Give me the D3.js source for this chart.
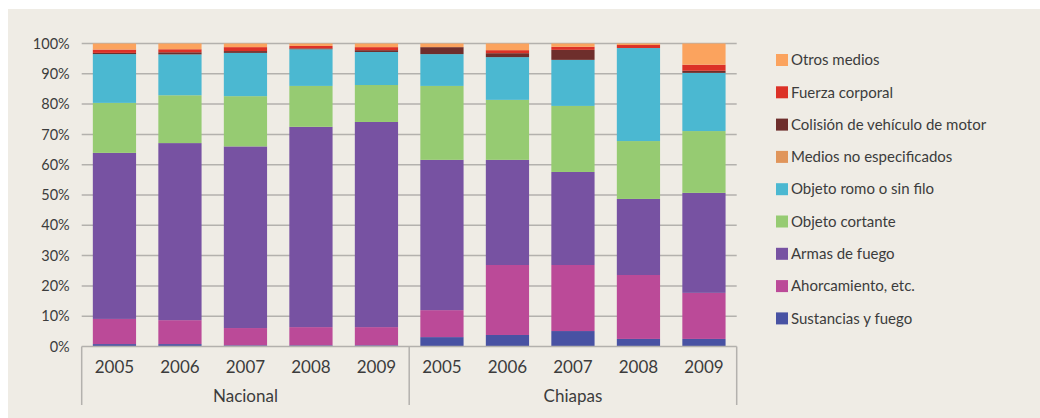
<!DOCTYPE html>
<html>
<head>
<meta charset="utf-8">
<script src="https://cdn.jsdelivr.net/npm/d3@7"></script>
<style>
  html, body { margin: 0; padding: 0; background: #ffffff; }
  svg { display: block; }
  text { font-family: Lato, "Open Sans", sans-serif; fill: #3c3c3c; }
</style>
</head>
<body>
<svg id="chart" width="1040" height="418"></svg>
<script>
// ---- Data ----
const years = ["2005", "2006", "2007", "2008", "2009"];
const groups = ["Nacional", "Chiapas"];
const yTicks = [0, 0.1, 0.2, 0.3, 0.4, 0.5, 0.6, 0.7, 0.8, 0.9, 1.0];

// series in stack order (bottom to top); first 5 values Nacional, last 5 Chiapas
const seriesNames = [
  "Sustancias y fuego",
  "Ahorcamiento, etc.",
  "Armas de fuego",
  "Objeto cortante",
  "Objeto romo o sin filo",
  "Medios no especificados",
  "Colisión de vehículo de motor",
  "Fuerza corporal",
  "Otros medios"
];
const sustancias      = [0.8, 0.8, 0.4, 0.4, 0.4,   3.1, 3.8, 5.1, 2.5, 2.5];
const ahorcamiento    = [8.3, 7.9, 5.7, 6.0, 6.0,   8.9, 23.1, 21.8, 21.1, 15.2];
const armas           = [54.8, 58.5, 60.0, 66.1, 67.7, 49.6, 34.7, 30.7, 25.1, 33.0];
const cortante        = [16.5, 15.8, 16.6, 13.5, 12.2, 24.4, 19.8, 21.8, 19.1, 20.4];
const romo            = [16.1, 13.5, 14.3, 12.1, 10.9, 10.5, 14.1, 15.2, 30.7, 19.2];
const noEspecificados = [0, 0, 0, 0, 0,   0, 0, 0, 0, 0];
const colision        = [0.4, 0.7, 0.6, 0.3, 0.6,   2.3, 1.3, 3.3, 0, 0.7];
const fuerza          = [1.1, 1.0, 1.3, 0.8, 1.0,   0, 1.0, 1.0, 1.0, 2.0];
const otros           = [2.0, 1.9, 1.2, 0.8, 1.2,   1.2, 2.2, 1.1, 0.5, 7.0];

const seriesValues = [sustancias, ahorcamiento, armas, cortante, romo, noEspecificados, colision, fuerza, otros];
const seriesColors = ["#4852a3", "#bb4a98", "#7752a2", "#96cb72", "#4bb8d1", "#e0955a", "#6e2e2c", "#dc3127", "#fba35e"];

// ---- Build table ----
const rows = [];
groups.forEach((g, gi) => {
  years.forEach((yr, yi) => {
    const idx = gi * years.length + yi;
    const row = { key: g + "-" + yr, group: g, year: yr };
    seriesNames.forEach((s, si) => { row[s] = seriesValues[si][idx]; });
    rows.push(row);
  });
});

const svg = d3.select("#chart");

// background panel
svg.append("rect").attr("x", 8).attr("y", 9).attr("width", 1032).attr("height", 409).attr("fill", "#efece5");

const plotLeft = 81.7, plotRight = 736.7, plotTop = 43.5, plotBottom = 346.5;

const x = d3.scaleBand().domain(rows.map(d => d.key)).range([plotLeft, plotRight]).paddingInner(0.34).paddingOuter(0.17);
const y = d3.scaleLinear().domain([0, 1]).range([plotBottom, plotTop]);

// gridlines
svg.append("g").selectAll("line").data(yTicks.slice(1)).join("line")
  .attr("x1", plotLeft).attr("x2", plotRight)
  .attr("y1", d => y(d)).attr("y2", d => y(d))
  .attr("stroke", "#b3b1ad").attr("stroke-width", 1.5);

// y axis labels
const yAxis = d3.axisLeft(y).tickValues(yTicks).tickFormat(d3.format(".0%")).tickSize(0).tickPadding(12);
const gy = svg.append("g").attr("transform", `translate(${plotLeft},0)`).call(yAxis);
gy.select(".domain").remove();
gy.selectAll("text").style("font-size", "14.5px").style("font-family", "Lato, sans-serif").attr("fill", "#3c3c3c");

// stacked bars
const stack = d3.stack().keys(seriesNames).offset(d3.stackOffsetExpand);
const stacked = stack(rows);
svg.append("g").selectAll("g").data(stacked).join("g")
  .attr("fill", (d, i) => seriesColors[i])
  .selectAll("rect").data(d => d).join("rect")
  .attr("x", d => x(d.data.key))
  .attr("width", x.bandwidth())
  .attr("y", d => y(d[1]))
  .attr("height", d => Math.max(0, y(d[0]) - y(d[1])));

// x axis (baseline + group separators)
const axisColor = "#b3b1ad";
svg.append("line").attr("x1", plotLeft).attr("x2", plotRight).attr("y1", plotBottom).attr("y2", plotBottom)
  .attr("stroke", axisColor).attr("stroke-width", 1.5);

const step = x.step();
const groupEdges = [plotLeft, plotLeft + step * years.length, plotRight];
svg.append("g").selectAll("line").data(groupEdges).join("line")
  .attr("x1", d => d).attr("x2", d => d)
  .attr("y1", plotBottom).attr("y2", 405)
  .attr("stroke", axisColor).attr("stroke-width", 1.5);

// year labels
const xAxis = d3.axisBottom(x).tickFormat(k => k.split("-")[1]).tickSize(0).tickPadding(14);
const gx = svg.append("g").attr("transform", `translate(0,${plotBottom})`).call(xAxis);
gx.select(".domain").remove();
gx.selectAll("text").style("font-size", "17px").style("font-family", "Lato, sans-serif").attr("fill", "#3c3c3c");

// group labels
svg.append("g").selectAll("text").data(groups).join("text")
  .attr("x", (g, i) => (groupEdges[i] + groupEdges[i + 1]) / 2)
  .attr("y", 402)
  .attr("text-anchor", "middle")
  .style("font-size", "17px")
  .text(d => d);

// legend (top to bottom: reverse of stack order)
const legendItems = seriesNames.map((s, i) => ({ name: s, color: seriesColors[i] })).reverse();
const lg = svg.append("g").selectAll("g").data(legendItems).join("g")
  .attr("transform", (d, i) => `translate(776,${60 + i * 32.3})`);
lg.append("rect").attr("x", 0).attr("y", -6).attr("width", 12).attr("height", 12).attr("fill", d => d.color);
lg.append("text").attr("x", 15).attr("y", 0).attr("dy", "0.35em")
  .style("font-size", "15px").text(d => d.name);
</script>
</body>
</html>
